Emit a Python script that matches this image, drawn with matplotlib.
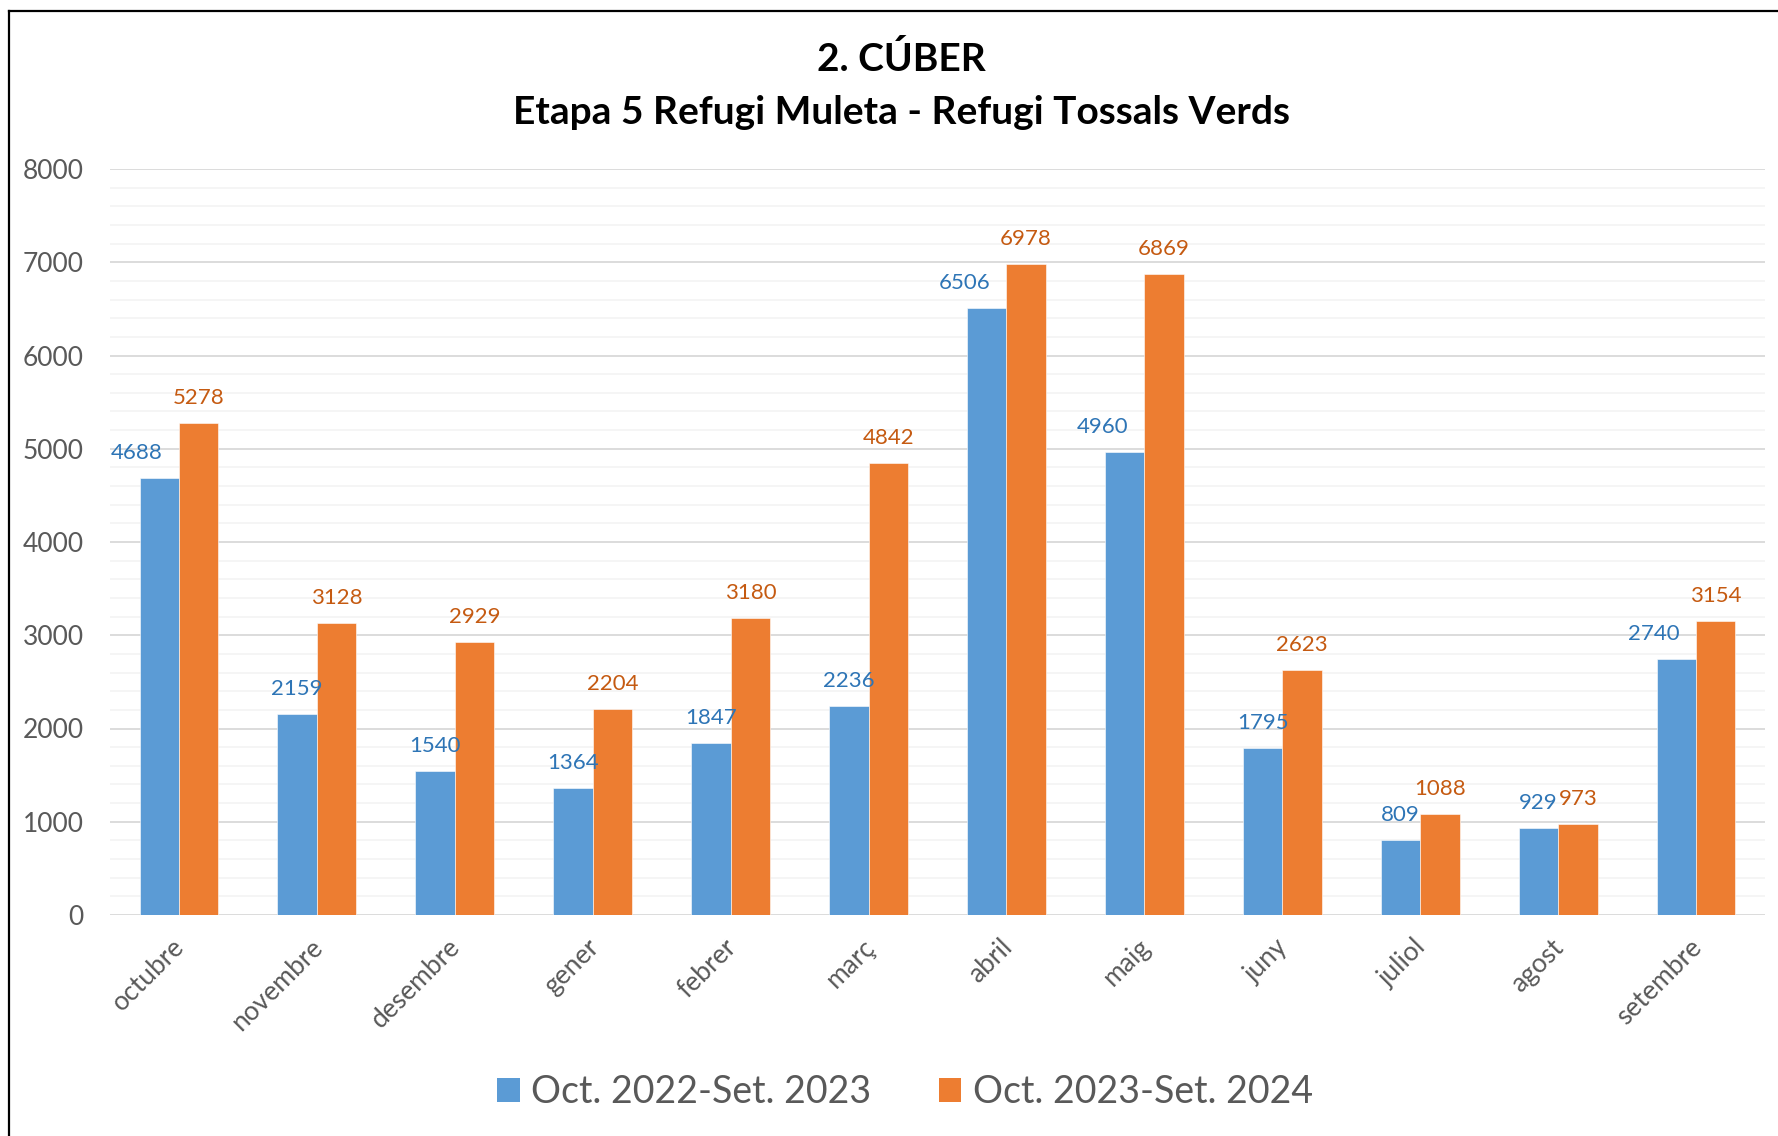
import numpy as np
import matplotlib
matplotlib.use('Agg')
import matplotlib.pyplot as plt
import matplotlib.transforms as mtransforms
from matplotlib.patches import Patch
from matplotlib.lines import Line2D
from matplotlib.ticker import MultipleLocator

# Dades del gràfic
months = ['octubre', 'novembre', 'desembre', 'gener', 'febrer', 'març',
          'abril', 'maig', 'juny', 'juliol', 'agost', 'setembre']
season_1 = [4688, 2159, 1540, 1364, 1847, 2236, 6506, 4960, 1795, 809, 929, 2740]
season_2 = [5278, 3128, 2929, 2204, 3180, 4842, 6978, 6869, 2623, 1088, 973, 3154]
series_names = ['Oct. 2022-Set. 2023', 'Oct. 2023-Set. 2024']
title_lines = ['2. CÚBER', 'Etapa 5 Refugi Muleta - Refugi Tossals Verds']

BLUE = '#5B9BD5'
ORANGE = '#ED7D31'
BLUE_TXT = '#2E75B6'
ORANGE_TXT = '#C55A11'
GREY = '#595959'

plt.rcParams['font.family'] = ['Lato', 'DejaVu Sans']

fig = plt.figure(figsize=(17.78, 11.36), dpi=100)
ax = fig.add_axes([110 / 1778, 1 - 915 / 1136, (1765 - 110) / 1778, (915 - 169) / 1136])

x = np.arange(len(months))
w = 0.286
ax.bar(x - w / 2, season_1, w, color=BLUE, edgecolor='white', linewidth=0.4, zorder=3)
ax.bar(x + w / 2, season_2, w, color=ORANGE, edgecolor='white', linewidth=0.4, zorder=3)

# etiquetes de valor (algunes blaves desplaçades a l'esquerra com a l'original)
nudge_left = {0, 6, 7, 11}
for i, (a, b) in enumerate(zip(season_1, season_2)):
    dx = -16 if i in nudge_left else 0
    ax.annotate(str(a), (x[i] - w / 2, a), xytext=(dx, 18), textcoords='offset points',
                ha='center', va='center', fontsize=16, color=BLUE_TXT, zorder=4)
    ax.annotate(str(b), (x[i] + w / 2, b), xytext=(0, 18), textcoords='offset points',
                ha='center', va='center', fontsize=16, color=ORANGE_TXT, zorder=4)

ax.set_xlim(-0.5, len(months) - 0.5)
ax.set_ylim(0, 8000)
ax.yaxis.set_major_locator(MultipleLocator(1000))
ax.yaxis.set_minor_locator(MultipleLocator(200))
ax.grid(which='major', axis='y', color='#D9D9D9', linewidth=1.3, zorder=1)
ax.grid(which='minor', axis='y', color='#F2F2F2', linewidth=1.1, zorder=0)
ax.set_axisbelow(True)
for s in ax.spines.values():
    s.set_visible(False)

ax.set_xticks(x)
ax.set_xticklabels(months, rotation=45, ha='right', rotation_mode='anchor')
ax.tick_params(axis='x', length=0, pad=14, labelsize=19, labelcolor=GREY)
ax.tick_params(axis='y', which='both', length=0, pad=19, labelsize=19, labelcolor=GREY)
shift = mtransforms.ScaledTranslation(-5 / 72, 0, fig.dpi_scale_trans)
for lbl in ax.get_xticklabels():
    lbl.set_transform(lbl.get_transform() + shift)

fig.text(0.507, 1 - 59 / 1136, title_lines[0], ha='center', va='center',
         fontsize=28, fontweight='bold', color='black')
fig.text(0.507, 1 - 112 / 1136, title_lines[1], ha='center', va='center',
         fontsize=28, fontweight='bold', color='black')

handles = [Patch(facecolor=BLUE), Patch(facecolor=ORANGE)]
fig.legend(handles, series_names, loc='center', bbox_to_anchor=(0.509, 1 - 1092 / 1136),
           ncol=2, frameon=False, fontsize=27, labelcolor=GREY,
           handlelength=0.6, handleheight=0.6, handletextpad=0.3, columnspacing=1.8)

# marc del gràfic (només vores esquerra i superior visibles)
fig.add_artist(Line2D([9 / 1778, 9 / 1778], [0, 1 - 11 / 1136], transform=fig.transFigure,
                      color='black', linewidth=1.6))
fig.add_artist(Line2D([9 / 1778, 1], [1 - 11 / 1136, 1 - 11 / 1136], transform=fig.transFigure,
                      color='black', linewidth=1.6))

fig.savefig('out.png', dpi=100)
